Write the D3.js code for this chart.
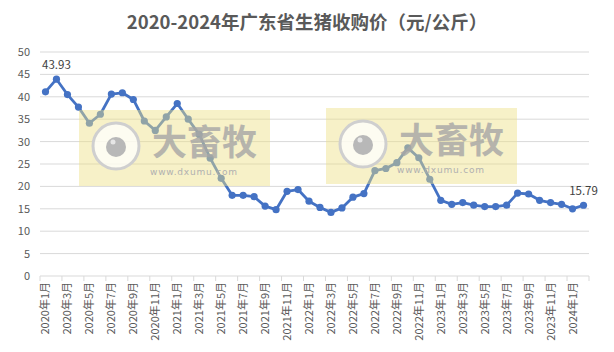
<!DOCTYPE html>
<html lang="zh">
<head>
<meta charset="UTF-8">
<script src="https://cdnjs.cloudflare.com/ajax/libs/d3/7.8.5/d3.min.js"></script>
<title>广东省生猪收购价</title>
<style>
  body { margin: 0; background: #fff; font-family: 'Noto Sans CJK SC', 'Noto Sans', sans-serif; }
  .grid line { stroke: #d9d9d9; }
  .axis text { fill: #595959; font-size: 11px; }
</style>
</head>
<body>
<svg width="614" height="352"></svg>
<script>
// months 2020-01 .. 2024-02
const months = []
for (let yr = 2020; yr <= 2024; yr++) {
  for (let m = 1; m <= 12; m++) {
    if (yr === 2024 && m > 2) break
    months.push(yr + '年' + m + '月')
  }
}
const prices = [
  41.1, 43.93, 40.5, 37.7, 34.1, 36.1, 40.6, 40.9, 39.4, 34.6, 32.5, 35.5,
  38.5, 35.0, 31.6, 26.3, 21.8, 18.0, 18.0, 17.7, 15.6, 14.8, 18.9, 19.3,
  16.7, 15.3, 14.2, 15.2, 17.6, 18.4, 23.5, 24.0, 25.3, 28.6, 26.4, 21.6,
  16.9, 16.0, 16.4, 15.8, 15.5, 15.5, 15.8, 18.5, 18.3, 16.9, 16.4, 16.0,
  15.0, 15.79
]
const yTicks = [0, 5, 10, 15, 20, 25, 30, 35, 40, 45, 50]
const labelled = ['2020年2月', '2024年2月']

const svg = d3.select('svg')
const m = { left: 40, right: 589, top: 52, bot: 276 }

const x = d3.scaleBand().domain(months).range([m.left, m.right]).padding(0)
const y = d3.scaleLinear().domain([0, 50]).range([m.bot, m.top])
const cx = d => x(d) + x.bandwidth() / 2

// title
svg.append('text')
  .attr('x', 307).attr('y', 29)
  .attr('text-anchor', 'middle')
  .style('font-size', '18.5px').style('font-weight', 'bold').style('fill', '#595959')
  .text('2020-2024年广东省生猪收购价（元/公斤）')

// grid
svg.append('g').attr('class', 'grid')
  .selectAll('line').data(yTicks.slice(1)).enter().append('line')
  .attr('x1', m.left).attr('x2', m.right)
  .attr('y1', d => y(d)).attr('y2', d => y(d))

// y labels
svg.append('g').attr('class', 'axis')
  .selectAll('text').data(yTicks).enter().append('text')
  .attr('x', 30).attr('y', d => y(d) + 4)
  .attr('text-anchor', 'end')
  .text(d => d)

// x axis line + ticks
svg.append('line').attr('x1', m.left).attr('x2', m.right).attr('y1', m.bot).attr('y2', m.bot)
  .attr('stroke', '#d9d9d9')
const tickPos = months.filter((d, i) => i % 2 === 0).map(d => x(d)).concat([m.right])
svg.selectAll('.tk').data(tickPos).enter().append('line')
  .attr('x1', d => d).attr('x2', d => d).attr('y1', m.bot).attr('y2', m.bot + 5)
  .attr('stroke', '#d9d9d9')

svg.append('g').attr('class', 'axis')
  .selectAll('text').data(months.filter((d, i) => i % 2 === 0)).enter().append('text')
  .attr('transform', d => 'translate(' + (cx(d) + 4) + ',' + (m.bot + 6) + ') rotate(-90)')
  .attr('text-anchor', 'end')
  .text(d => d)

// line
const line = d3.line().x((d, i) => cx(months[i])).y(d => y(d))
svg.append('path').datum(prices)
  .attr('d', line).attr('fill', 'none')
  .attr('stroke', '#4472C4').attr('stroke-width', 2.8).attr('stroke-linejoin', 'round')
svg.selectAll('.pt').data(prices).enter().append('circle')
  .attr('cx', (d, i) => cx(months[i])).attr('cy', d => y(d)).attr('r', 3.6)
  .attr('fill', '#4472C4')

// data labels
labelled.forEach(mo => {
  const i = months.indexOf(mo)
  svg.append('text')
    .attr('x', cx(mo)).attr('y', y(prices[i]) - 10)
    .attr('text-anchor', 'middle')
    .style('font-size', '11.5px').style('fill', '#404040')
    .text(prices[i].toFixed(2))
})

// watermarks
function watermark(x0, y0) {
  const g = svg.append('g').attr('transform', 'translate(' + x0 + ',' + y0 + ')')
  g.append('rect').attr('width', 191).attr('height', 76)
    .attr('fill', '#eedf86').attr('opacity', 0.45)
  g.append('circle').attr('cx', 37).attr('cy', 36).attr('r', 23)
    .attr('fill', '#fff').attr('fill-opacity', 0.75).attr('stroke', '#cfcfcf').attr('stroke-width', 3)
  g.append('circle').attr('cx', 37).attr('cy', 37).attr('r', 10).attr('fill', '#b8b8b8')
  g.append('circle').attr('cx', 34).attr('cy', 32).attr('r', 2.5).attr('fill', '#e6e6e6')
  g.append('text').attr('x', 73).attr('y', 45)
    .style('font-size', '35px').style('font-weight', 'bold').style('fill', '#a6a6a6').attr('opacity', 0.8)
    .text('大畜牧')
  g.append('text').attr('x', 71).attr('y', 65)
    .style('font-size', '9px').style('fill', '#b0b0b0').style('letter-spacing', '0.8px')
    .style('font-family', 'DejaVu Sans, sans-serif')
    .text('www.dxumu.com')
}
watermark(79, 110)
watermark(326, 108)
</script>
</body>
</html>
